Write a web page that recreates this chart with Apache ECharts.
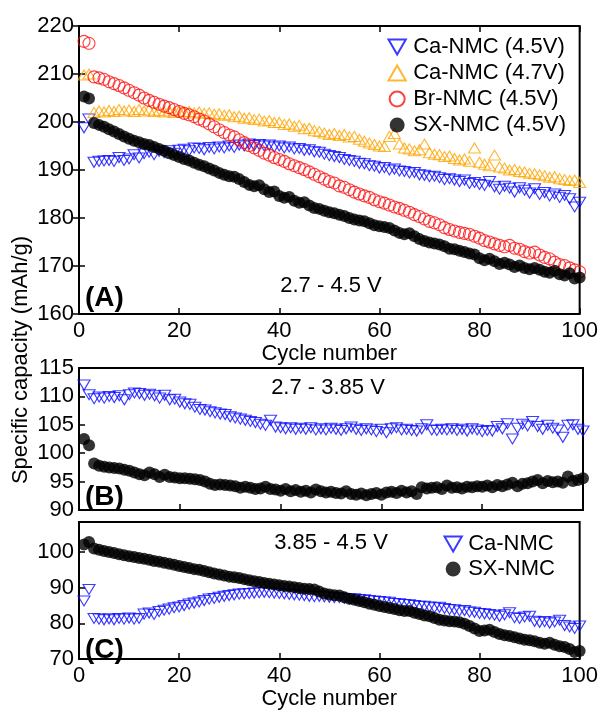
<!DOCTYPE html>
<html><head><meta charset="utf-8">
<script src="https://cdn.jsdelivr.net/npm/echarts@6/dist/echarts.min.js"></script>
<style>html,body{margin:0;padding:0;background:#fff}#c{width:601px;height:711px}</style>
</head><body><div id="c"></div>
<script>
// ---------- data ----------
const cycles = [1,2,3,4,5,6,7,8,9,10,11,12,13,14,15,16,17,18,19,20,21,22,23,24,25,26,27,28,29,30,31,32,33,34,35,36,37,38,39,40,41,42,43,44,45,46,47,48,49,50,51,52,53,54,55,56,57,58,59,60,61,62,63,64,65,66,67,68,69,70,71,72,73,74,75,76,77,78,79,80,81,82,83,84,85,86,87,88,89,90,91,92,93,94,95,96,97,98,99,100];
const xTicks = [0,20,40,60,80,100];

// Panel A (2.7 - 4.5 V)
const caNmc45 = [198.8,200.6,191.6,191.8,191.9,192.0,191.8,192.6,192.0,192.3,193.2,192.5,193.4,193.7,193.2,193.9,193.6,194.0,193.5,194.1,194.3,194.0,194.6,194.5,194.2,194.7,194.4,194.8,194.6,195.0,194.7,195.2,195.0,195.4,195.1,195.3,195.0,195.2,194.8,195.0,194.6,194.8,194.4,194.5,194.1,194.2,193.8,193.7,193.3,193.0,192.8,192.6,192.2,192.0,191.8,191.4,191.3,190.9,190.8,190.4,190.5,190.0,190.2,189.8,189.7,189.4,189.5,189.0,188.9,188.6,188.7,188.4,188.0,188.2,187.9,187.6,187.9,187.2,187.4,187.0,186.8,187.6,186.5,186.0,186.6,186.2,185.4,186.3,185.8,185.2,186.1,184.9,185.3,184.6,185.0,184.3,184.7,184.0,182.3,183.3];
const caNmc47 = [209.8,210.0,202.0,202.3,202.1,202.4,202.2,202.6,202.3,202.5,202.2,202.6,202.3,202.5,202.2,202.4,202.1,202.3,202.0,202.3,202.1,202.2,201.9,202.1,201.8,201.9,201.6,201.7,201.4,201.5,201.1,201.2,200.8,200.9,200.5,200.6,200.2,200.3,199.9,199.9,199.5,199.6,199.1,199.3,198.6,198.7,198.2,198.0,197.7,197.4,197.6,197.2,197.4,196.9,197.0,196.4,196.0,195.6,195.3,195.0,194.9,197.0,197.6,195.4,194.6,194.4,194.0,194.2,195.4,193.6,193.3,193.2,192.8,192.9,192.4,192.1,192.3,191.8,194.6,191.6,191.2,190.9,193.1,190.6,190.4,190.0,190.1,189.7,189.6,189.3,189.2,189.0,188.8,188.5,188.6,188.2,188.0,187.8,187.9,187.4];
const brNmc45 = [216.8,216.4,209.4,209.2,208.9,208.4,208.0,207.6,207.1,206.6,206.1,205.6,205.0,204.5,204.1,203.7,203.3,203.0,202.6,202.2,201.8,201.5,201.1,200.6,200.2,199.6,199.0,198.4,197.8,197.3,196.9,196.3,195.7,195.1,194.6,194.1,193.5,193.1,192.6,192.2,191.8,191.3,190.9,190.5,190.1,189.6,189.1,188.6,188.1,187.6,187.3,186.7,186.4,185.9,185.4,185.0,184.6,184.3,183.8,183.4,183.1,182.7,182.3,182.0,181.6,181.2,180.7,180.3,179.8,179.3,179.0,178.6,178.0,177.6,177.3,177.0,176.8,176.6,176.2,175.8,175.3,175.0,174.6,174.3,174.0,174.3,173.7,173.5,173.0,172.7,172.9,172.3,171.8,171.5,170.8,170.3,170.1,169.6,169.2,168.8];
const sxNmc45 = [205.3,204.9,199.8,199.4,199.0,198.5,198.0,197.5,197.0,196.5,196.1,195.8,195.4,195.2,194.8,194.4,194.0,193.5,193.1,192.7,192.3,192.0,191.5,191.1,190.8,190.3,189.9,189.4,189.0,188.7,188.6,188.1,187.5,186.9,186.6,186.8,186.0,185.4,185.5,184.6,184.2,184.4,183.6,183.2,183.3,182.6,182.1,181.9,181.5,181.2,181.0,180.7,180.4,180.0,179.7,179.5,179.3,178.9,178.5,178.3,178.1,177.9,177.4,176.9,176.6,176.8,176.2,175.6,175.2,174.9,174.7,174.5,174.1,173.6,173.5,173.2,172.9,172.6,172.4,171.6,171.2,171.5,171.0,170.4,170.7,170.3,169.8,170.1,169.6,169.3,169.6,169.2,168.8,168.6,169.0,168.3,168.0,168.5,167.4,167.6];

// Panel B (2.7 - 3.85 V)
const caNmcB = [112.0,110.3,109.6,109.9,109.7,110.0,109.8,110.1,109.4,110.3,110.6,110.5,110.2,110.4,110.1,109.7,110.2,109.4,109.5,109.0,108.7,108.6,108.1,107.7,107.6,107.3,107.1,106.9,106.8,106.4,106.2,106.0,105.8,105.6,105.4,105.1,104.9,105.8,104.6,104.5,104.3,104.5,104.2,104.4,104.2,104.5,104.1,104.3,104.1,104.4,104.2,104.0,104.3,104.6,104.2,104.0,104.3,104.1,103.8,104.2,103.6,104.3,104.5,104.1,104.2,104.0,103.9,104.3,105.0,104.1,104.0,104.2,104.1,104.3,104.0,104.2,103.9,104.3,104.1,103.8,104.0,103.9,104.7,104.3,105.2,102.5,104.4,105.1,104.8,105.6,104.7,104.2,104.9,104.4,104.1,102.8,104.9,105.0,104.2,103.9];
const sxNmcB = [102.5,101.4,98.2,97.8,97.6,97.5,97.4,97.3,97.1,96.9,96.6,96.3,96.1,96.6,96.3,95.8,96.2,95.8,95.7,95.6,95.6,95.5,95.4,95.3,95.0,94.6,94.4,94.5,94.4,94.3,94.2,93.9,94.1,93.9,93.7,93.8,94.1,93.7,93.6,93.4,93.7,93.3,93.5,93.2,93.4,93.1,93.6,93.3,93.1,93.2,93.0,92.9,93.3,92.8,92.7,92.9,92.6,92.8,93.0,92.7,93.1,93.2,93.0,93.4,93.1,93.3,92.8,94.0,93.8,93.9,94.0,93.7,94.3,93.9,94.0,93.8,94.1,94.0,94.2,94.1,94.3,94.0,94.4,94.2,94.5,94.8,94.2,94.6,94.7,95.0,95.3,94.7,95.1,94.9,95.0,94.8,95.9,95.1,95.3,95.6];

// Panel C (3.85 - 4.5 V)
const caNmcC = [86.3,89.5,81.4,81.2,81.0,81.3,81.0,81.4,81.2,81.5,81.2,81.4,82.6,82.9,82.5,83.3,83.7,84.0,84.4,84.6,85.0,85.4,85.7,86.0,86.4,86.8,87.0,87.3,87.6,87.8,88.0,88.2,88.3,88.4,88.5,88.6,88.7,88.6,88.5,88.4,88.3,88.1,88.0,87.9,87.8,87.6,87.5,87.6,87.4,87.3,87.2,87.2,87.0,86.9,86.9,86.7,86.6,86.4,86.3,86.1,86.0,85.9,85.6,85.5,85.3,85.2,85.0,84.8,84.8,84.6,84.4,84.5,84.2,83.9,83.8,83.5,83.6,83.2,83.1,82.8,82.7,82.5,82.3,82.0,82.4,83.0,81.6,81.4,81.8,82.0,80.6,80.3,80.5,80.1,80.4,80.9,79.4,79.0,78.6,79.3];
const sxNmcC = [102.1,102.8,101.0,100.6,100.3,100.0,99.7,99.4,99.1,98.8,98.6,98.3,98.1,97.8,97.5,97.3,97.0,96.7,96.4,96.1,95.8,95.5,95.2,95.0,94.7,94.3,94.0,93.7,93.4,93.1,92.9,92.7,92.4,92.1,91.8,91.6,91.3,91.1,90.9,90.7,90.5,90.3,90.1,89.9,89.7,89.6,89.5,88.9,88.4,88.1,87.9,87.8,87.3,86.9,86.6,86.3,85.9,85.5,85.2,84.9,84.6,84.3,84.0,83.7,83.5,83.5,83.0,82.6,82.2,82.0,81.5,81.0,80.8,80.6,80.5,80.3,79.9,79.3,78.6,77.9,78.0,78.2,77.6,77.0,76.7,76.5,76.1,75.8,75.4,75.3,75.0,74.6,74.3,74.6,74.0,73.6,73.4,72.8,72.0,72.3];

const namesA = ['Ca-NMC (4.5V)','Ca-NMC (4.7V)','Br-NMC (4.5V)','SX-NMC (4.5V)'];
const namesC = ['Ca-NMC','SX-NMC'];
const rangeLabels = ['2.7 - 4.5 V','2.7 - 3.85 V','3.85 - 4.5 V'];
const panelLabels = ['(A)','(B)','(C)'];
const yTitle = 'Specific capacity (mAh/g)';
const xTitle = 'Cycle number';

// ---------- styling ----------
const FONT = 'Liberation Sans, Arial, sans-serif';
const BLUE = '#0a0aff', ORANGE = '#ffa500', RED = '#ff1010', BLACK = '#000';
const DOWN = 'path://M0,0L10,0L5,8.66Z';
const UP = 'path://M5,0L10,8.66L0,8.66Z';

const pairs = arr => arr.map((v, i) => [cycles[i], v]);

function openSeries(name, data, x, y, color, symbol, size) {
  return { type: 'scatter', name, data: pairs(data), xAxisIndex: x, yAxisIndex: y,
    symbol, symbolSize: size,
    itemStyle: { color: 'none', borderColor: color, borderWidth: 1.1 } };
}
function filledSeries(name, data, x, y, size) {
  return { type: 'scatter', name, data: pairs(data), xAxisIndex: x, yAxisIndex: y,
    symbol: 'circle', symbolSize: size, itemStyle: { color: BLACK } };
}

const tick = { show: true, inside: true, length: 6, lineStyle: { color: '#000', width: 1.5 } };
const label = { color: '#000', fontSize: 22, fontFamily: FONT };

function xAxis(grid, opts) {
  return Object.assign({ type: 'value', gridIndex: grid, min: 0, max: 100, interval: 20,
    axisLine: { show: false }, splitLine: { show: false }, axisTick: tick,
    axisLabel: Object.assign({ margin: 6 }, label) }, opts);
}
function yAxis(grid, min, max, interval, opts) {
  return Object.assign({ type: 'value', gridIndex: grid, min, max, interval,
    axisLine: { show: false }, splitLine: { show: false }, axisTick: tick,
    axisLabel: Object.assign({ margin: 5 }, label) }, opts);
}

const gridBase = { left: 79, right: 18, show: true, borderColor: '#000', borderWidth: 2, backgroundColor: 'transparent' };

const option = {
  animation: false,
  backgroundColor: '#fff',
  textStyle: { fontFamily: FONT },
  grid: [
    Object.assign({ top: 26, height: 288 }, gridBase),
    Object.assign({ top: 368, height: 142 }, gridBase),
    Object.assign({ top: 522, height: 142 }, gridBase)
  ],
  xAxis: [
    xAxis(0, { name: xTitle, nameLocation: 'middle', nameGap: 22, nameTextStyle: label }),
    xAxis(0, { position: 'top', axisLabel: { show: false } }),
    xAxis(1, { axisLabel: { show: false } }),
    xAxis(2, { name: xTitle, nameLocation: 'middle', nameGap: 26, nameTextStyle: label })
  ],
  yAxis: [
    yAxis(0, 160, 220, 10),
    yAxis(0, 160, 220, 10, { position: 'right', axisLabel: { show: false } }),
    yAxis(1, 90, 115, 5),
    yAxis(2, 70, 108.4, 10, { axisLabel: Object.assign({ margin: 5, showMaxLabel: false }, label) })
  ],
  legend: [
    { data: namesA, orient: 'vertical', left: 386, top: 36, padding: 0, itemGap: 4,
      itemWidth: 22, itemHeight: 15, selectedMode: false,
      textStyle: { color: '#000', fontSize: 22, fontFamily: FONT, lineHeight: 22 } },
    { data: namesC, orient: 'vertical', left: 442, top: 533, padding: 0, itemGap: 3,
      itemWidth: 20, itemHeight: 15, selectedMode: false,
      textStyle: { color: '#000', fontSize: 22, fontFamily: FONT, lineHeight: 22 } }
  ],
  series: [
    openSeries(namesA[0], caNmc45, 0, 0, BLUE, DOWN, [12, 10]),
    openSeries(namesA[1], caNmc47, 0, 0, ORANGE, UP, [12, 10]),
    openSeries(namesA[2], brNmc45, 0, 0, RED, 'circle', 12),
    filledSeries(namesA[3], sxNmc45, 0, 0, 12),
    openSeries(namesC[0], caNmcB, 2, 2, BLUE, DOWN, [12, 10]),
    filledSeries(namesC[1], sxNmcB, 2, 2, 12),
    openSeries(namesC[0], caNmcC, 3, 3, BLUE, DOWN, [12, 10]),
    filledSeries(namesC[1], sxNmcC, 3, 3, 12)
  ],
  graphic: [
    { type: 'text', x: 21, y: 360, rotation: Math.PI / 2,
      style: { text: yTitle, font: '22px ' + FONT, fill: '#000', textAlign: 'center', textVerticalAlign: 'middle' } },
    { type: 'text', x: 85, y: 298, style: { text: panelLabels[0], font: 'bold 28px ' + FONT, fill: '#000', textAlign: 'left', textVerticalAlign: 'middle' } },
    { type: 'text', x: 85, y: 497, style: { text: panelLabels[1], font: 'bold 28px ' + FONT, fill: '#000', textAlign: 'left', textVerticalAlign: 'middle' } },
    { type: 'text', x: 85, y: 650, style: { text: panelLabels[2], font: 'bold 28px ' + FONT, fill: '#000', textAlign: 'left', textVerticalAlign: 'middle' } },
    { type: 'text', x: 331, y: 286, style: { text: rangeLabels[0], font: '22px ' + FONT, fill: '#000', textAlign: 'center', textVerticalAlign: 'middle' } },
    { type: 'text', x: 328, y: 388, style: { text: rangeLabels[1], font: '22px ' + FONT, fill: '#000', textAlign: 'center', textVerticalAlign: 'middle' } },
    { type: 'text', x: 331, y: 543, style: { text: rangeLabels[2], font: '22px ' + FONT, fill: '#000', textAlign: 'center', textVerticalAlign: 'middle' } }
  ]
};

const chart = echarts.init(document.getElementById('c'), null, { renderer: 'canvas' });
chart.setOption(option);
</script>
</body></html>
